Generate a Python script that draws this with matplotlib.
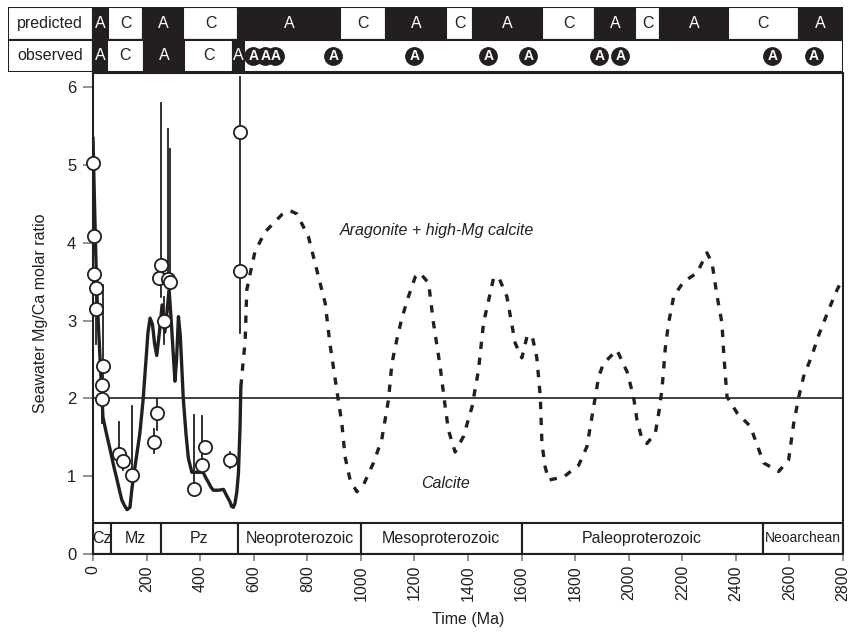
import matplotlib
matplotlib.use('Agg')
import matplotlib.pyplot as plt
from matplotlib.patches import Rectangle

plt.rcParams['font.family'] = ['Liberation Sans', 'DejaVu Sans']

INK = '#231f20'

# --- data ---
# model curve, Phanerozoic (solid)
model_age = [0, 5, 10, 15, 20, 25, 30, 34, 37, 50, 64, 78, 90, 100, 108, 118, 127, 138, 146, 160, 175, 187,
             198, 205, 213, 222, 230, 238, 248, 258, 268, 276, 284, 292, 299, 306, 312, 319, 326, 337, 347,
             356, 369, 390, 411, 421, 431, 440, 449, 470, 487, 499, 510, 518, 524, 530, 537, 543, 549, 552]
model_ratio = [5.35, 4.6, 3.9, 3.3, 2.95, 2.6, 2.25, 2.0, 1.76, 1.55, 1.34, 1.12, 0.95, 0.8, 0.69, 0.62, 0.57, 0.6,
               0.86, 1.2, 1.55, 1.98, 2.5, 2.84, 3.03, 2.95, 2.7, 2.55, 2.85, 3.2, 2.85, 3.1, 3.4, 3.0, 2.6,
               2.22, 2.5, 3.05, 2.8, 2.0, 1.55, 1.23, 1.05, 1.05, 1.05, 0.98, 0.92, 0.86, 0.82, 0.82, 0.83,
               0.75, 0.68, 0.61, 0.6, 0.65, 0.8, 1.04, 1.64, 2.15]

# model curve, Precambrian (dashed)
pc_age = [552, 560, 568, 574, 586, 605, 643, 705, 736, 761, 804, 842, 867, 885, 910, 929, 941, 960, 985, 1010,
          1047, 1078, 1103, 1116, 1134, 1153, 1178, 1203, 1221, 1253, 1271, 1296, 1315, 1327, 1352, 1383,
          1415, 1439, 1458, 1477, 1495, 1514, 1545, 1576, 1601, 1620, 1639, 1657, 1670, 1676, 1688, 1701,
          1757, 1813, 1844, 1869, 1888, 1906, 1956, 1994, 2018, 2031, 2050, 2068, 2099, 2112, 2124, 2130,
          2137, 2149, 2168, 2205, 2255, 2292, 2311, 2330, 2348, 2354, 2361, 2367, 2405, 2454, 2504, 2560,
          2597, 2616, 2635, 2653, 2685, 2709, 2741, 2772, 2797]
pc_ratio = [2.15, 2.45, 2.73, 3.39, 3.59, 3.89, 4.14, 4.36, 4.41, 4.37, 4.08, 3.56, 3.22, 2.69, 2.11, 1.68,
            1.25, 0.95, 0.8, 0.89, 1.17, 1.47, 1.98, 2.45, 2.75, 3.03, 3.31, 3.56, 3.61, 3.48, 2.97, 2.41,
            1.89, 1.59, 1.31, 1.51, 1.89, 2.36, 2.97, 3.26, 3.54, 3.56, 3.31, 2.71, 2.52, 2.79, 2.81, 2.52,
            2.02, 1.42, 1.12, 0.95, 0.99, 1.14, 1.38, 1.89, 2.28, 2.45, 2.62, 2.34, 2.02, 1.72, 1.47, 1.42,
            1.55, 1.81, 2.11, 2.36, 2.66, 2.97, 3.31, 3.5, 3.61, 3.87, 3.74, 3.31, 2.97, 2.62, 2.28, 2.02,
            1.81, 1.64, 1.17, 1.06, 1.21, 1.68, 2.02, 2.28, 2.56, 2.81, 3.09, 3.35, 3.53]

# fluid inclusion / proxy observations with error ranges
obs_age = [0, 5, 5, 11, 11, 39, 32, 32, 98, 111, 145, 228, 240, 253, 246, 265, 279, 288, 378, 406, 418, 512, 547, 547]
obs_ratio = [5.02, 4.08, 3.60, 3.42, 3.15, 2.41, 2.17, 1.99, 1.29, 1.19, 1.01, 1.44, 1.81, 3.71, 3.55, 3.0,
             3.53, 3.49, 0.84, 1.14, 1.37, 1.21, 5.42, 3.64]
obs_lo = [4.0, 4.08, 3.60, 3.42, 2.7, 1.68, 2.17, 1.68, 1.29, 1.08, 1.01, 1.30, 1.59, 3.3, 3.55, 2.7,
          3.53, 3.49, 0.84, 1.14, 1.37, 1.10, 2.84, 3.64]
obs_hi = [6.3, 4.08, 3.60, 3.42, 3.45, 3.46, 2.17, 1.99, 1.69, 1.19, 1.90, 1.60, 1.99, 5.80, 3.55, 3.3,
          5.46, 5.20, 1.79, 1.77, 1.37, 1.31, 6.13, 3.64]

# geologic eras
era_names = ['Cz', 'Mz', 'Pz', 'Neoproterozoic', 'Mesoproterozoic', 'Paleoproterozoic', 'Neoarchean']
era_edges = [0, 66, 252, 541, 1000, 1600, 2500, 2800]

# predicted / observed mineralogy (A = aragonite sea, C = calcite sea)
pred_edges = [0, 56, 187, 336, 542, 923, 1094, 1319, 1419, 1677, 1875, 2025, 2118, 2372, 2634, 2800]
pred_labels = ['A', 'C', 'A', 'C', 'A', 'C', 'A', 'C', 'A', 'C', 'A', 'C', 'A', 'C', 'A']
seen_edges = [0, 52, 190, 340, 523, 564]
seen_labels = ['A', 'C', 'A', 'C', 'A']
seen_arag = [598, 643, 680, 897, 1199, 1476, 1625, 1890, 1969, 2536, 2690]

W, H = 849, 635
fig = plt.figure(figsize=(W / 100, H / 100), dpi=100)

# main panel
ax = fig.add_axes([93 / W, (H - 554) / H, 750 / W, 481 / H])
ax.set_xlim(0, 2800)
ax.set_ylim(0, 6.18)

ax.axhline(2, color=INK, lw=1.2, zorder=1)

# era boxes along the bottom
for i, name in enumerate(era_names):
    x0, x1 = era_edges[i], era_edges[i + 1]
    ax.add_patch(Rectangle((x0, 0), x1 - x0, 0.4, facecolor='white', edgecolor=INK, lw=1.5, zorder=2))
    fs = 10 if name == 'Neoarchean' else 11.5
    ax.text((x0 + x1) / 2, 0.2, name, ha='center', va='center', fontsize=fs, color=INK, zorder=3)

ax.plot(model_age, model_ratio, color=INK, lw=2.4, zorder=4, solid_capstyle='round')
ax.plot(pc_age, pc_ratio, color=INK, lw=2.4, dashes=(2.2, 2.6), zorder=4)

# error bars then the open circles
for a, lo, hi in zip(obs_age, obs_lo, obs_hi):
    if hi > lo:
        ax.plot([a, a], [lo, hi], color=INK, lw=1.3, zorder=5)
ax.plot(obs_age, obs_ratio, 'o', ms=9.5, mfc='white', mec=INK, mew=1.3, ls='none', zorder=6, clip_on=False)

ax.text(1285, 4.16, 'Aragonite + high-Mg calcite', style='italic', fontsize=11.5, ha='center', va='center', color=INK)
ax.text(1315, 0.91, 'Calcite', style='italic', fontsize=11.5, ha='center', va='center', color=INK)

ax.set_xticks(range(0, 2801, 200))
ax.set_xticklabels([str(t) for t in range(0, 2801, 200)], rotation=90, fontsize=11.5, color=INK)
ax.set_yticks(range(0, 7))
ax.set_yticklabels([str(t) for t in range(0, 7)], fontsize=12, color=INK)
ax.tick_params(axis='x', length=5, width=1.2, color='#808080', pad=3)
ax.tick_params(axis='y', length=7, width=1.2, color='#808080', pad=5)
for s in ax.spines.values():
    s.set_color(INK)
    s.set_linewidth(1.5)

ax.set_xlabel('Time (Ma)', fontsize=11.5, color=INK, labelpad=8)
ax.set_ylabel('Seawater Mg/Ca molar ratio', fontsize=11.5, color=INK, labelpad=14)

# mineralogy bands on top
bx = fig.add_axes([8 / W, (H - 72) / H, 835 / W, 65 / H])
bx.set_xlim(-317.5, 2800)
bx.set_ylim(0, 2)
bx.axis('off')

for row, txt in [(1, 'predicted'), (0, 'observed')]:
    bx.add_patch(Rectangle((-317.5, row), 317.5, 1, facecolor='white', edgecolor=INK, lw=1.5))
    bx.text(-160, row + 0.5, txt, ha='center', va='center', fontsize=11.5, color=INK)

for i, lab in enumerate(pred_labels):
    x0, x1 = pred_edges[i], pred_edges[i + 1]
    fc = INK if lab == 'A' else 'white'
    bx.add_patch(Rectangle((x0, 1), x1 - x0, 1, facecolor=fc, edgecolor=INK, lw=1.5))
    bx.text((x0 + x1) / 2, 1.5, lab, ha='center', va='center', fontsize=11.5,
            color='white' if lab == 'A' else INK)

bx.add_patch(Rectangle((0, 0), 2800, 1, facecolor='white', edgecolor=INK, lw=1.5))
for i, lab in enumerate(seen_labels):
    x0, x1 = seen_edges[i], seen_edges[i + 1]
    fc = INK if lab == 'A' else 'white'
    bx.add_patch(Rectangle((x0, 0), x1 - x0, 1, facecolor=fc, edgecolor=INK, lw=1.5))
    bx.text((x0 + x1) / 2, 0.5, lab, ha='center', va='center', fontsize=11.5,
            color='white' if lab == 'A' else INK)

# circled A = observed aragonite
bx.plot(seen_arag, [0.5] * len(seen_arag), 'o', ms=12.5, mfc=INK, mec=INK, ls='none')
for a in seen_arag:
    bx.text(a, 0.48, 'A', ha='center', va='center', fontsize=10, fontweight='bold', color='white')

fig.savefig('out.png', dpi=100)
